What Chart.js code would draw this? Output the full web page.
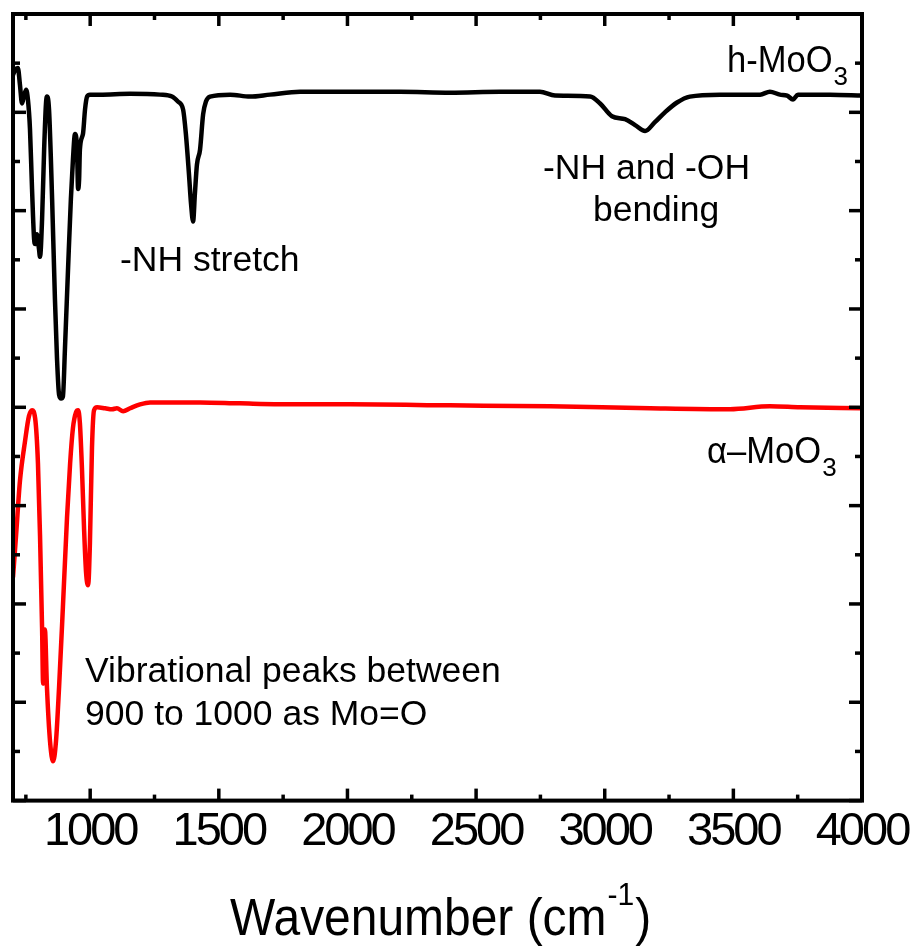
<!DOCTYPE html>
<html><head><meta charset="utf-8">
<script src="https://cdn.jsdelivr.net/npm/chart.js@4.4.1/dist/chart.umd.min.js"></script>
<style>html,body{margin:0;padding:0;background:#fff;overflow:hidden}#wrap{position:relative;width:918px;height:947px}</style>
</head><body><div id="wrap"><canvas id="c" width="918" height="947"></canvas></div>
<script>
// ---- data ----
const seriesNames = ['h-MoO3', 'α–MoO3'];
const hWave = [700,708,719,727,735,743,751,758,766,774,782,786,793,801,805,813,821,828,832,840,852,863,871,879,887,894,902,914,925,933,941,949,953,957,960,972,980,988,999,1038,1155,1271,1318,1341,1361,1372,1384,1392,1400,1407,1415,1427,1439,1450,1466,1544,1621,1699,1816,2010,2204,2399,2593,2748,2807,2943,2982,3028,3079,3118,3157,3195,3234,3281,3331,3448,3604,3642,3681,3709,3732,3751,3876,4000];
const hAbs  = [7.38,7.43,7.45,7.28,7.09,7.17,7.23,7.13,6.83,6.22,5.71,5.66,5.76,5.61,5.53,5.91,6.62,7.08,7.16,7.03,6.12,5.10,4.50,4.13,4.09,4.11,4.60,5.41,6.12,6.52,6.78,6.62,6.22,6.32,6.62,6.78,7.03,7.16,7.18,7.18,7.19,7.18,7.16,7.11,7.03,6.78,6.37,6.07,5.89,6.17,6.47,6.62,6.98,7.11,7.16,7.18,7.16,7.18,7.21,7.21,7.21,7.20,7.21,7.21,7.17,7.16,7.09,6.96,6.93,6.87,6.81,6.90,7.00,7.10,7.16,7.18,7.18,7.21,7.18,7.17,7.13,7.18,7.18,7.17];
const aWave = [700,712,727,747,762,774,786,797,805,813,817,824,832,844,856,867,879,894,910,922,933,945,953,960,968,976,984,992,999,1007,1015,1027,1058,1085,1104,1128,1155,1194,1233,1427,1582,1816,2010,2399,2787,3176,3487,3642,3759,4000];
const aAbs  = [2.27,2.70,3.25,3.66,3.91,3.97,3.89,3.43,2.70,1.76,1.19,1.74,1.15,0.60,0.40,0.60,1.15,1.97,2.88,3.43,3.79,3.95,3.97,3.84,3.38,2.78,2.32,2.19,2.62,3.59,3.97,4.00,3.99,3.98,3.99,3.96,3.99,4.03,4.05,4.05,4.04,4.03,4.03,4.02,4.01,3.99,3.98,4.01,4.00,3.99];
const xTickValues = [1000,1500,2000,2500,3000,3500,4000];
const xTickLabels = ['1000','1500','2000','2500','3000','3500','4000'];
const xMinorValues = [750,1250,1750,2250,2750,3250,3750];
const yTickValues = [0,1,2,3,4,5,6,7,8];
const yMinorValues = [0.5,1.5,2.5,3.5,4.5,5.5,6.5,7.5];
const annoTexts = ['-NH stretch','-NH and -OH','bending','Vibrational peaks between','900 to 1000 as Mo=O'];
const annoAnchors = [[1116,5.387],[2760,6.319],[2954,5.894],[980,1.205],[980,0.770]]; // wavenumber, value of text baseline start
const axisTitle = ['Wavenumber (cm','-1',')'];

// ---- drawing ----
const FONT = '"Liberation Sans", Arial, sans-serif';
function txt(ctx, s, x, y, size, sx) {
  ctx.save();
  ctx.font = size + 'px ' + FONT;
  ctx.textBaseline = 'alphabetic'; ctx.textAlign = 'left'; ctx.fillStyle = '#000';
  ctx.translate(x, y); ctx.scale(sx || 1, 1); ctx.fillText(s, 0, 0);
  const w = ctx.measureText(s).width * (sx || 1);
  ctx.restore();
  return w;
}
const framePlugin = {
  id: 'frame',
  beforeDraw(chart) { chart.ctx.letterSpacing = '-3px'; },
  beforeDatasetsDraw(chart) { chart.ctx.letterSpacing = '0px'; },
  afterDraw(chart) {
    const {ctx, chartArea: a, scales: {x, y}} = chart;
    ctx.save();
    ctx.letterSpacing = '0px';
    ctx.strokeStyle = '#000';
    ctx.lineWidth = 4;
    ctx.strokeRect(a.left, a.top, a.right - a.left, a.bottom - a.top);
    ctx.lineWidth = 3.5;
    const tick = (x1, y1, x2, y2) => { ctx.beginPath(); ctx.moveTo(x1, y1); ctx.lineTo(x2, y2); ctx.stroke(); };
    xTickValues.forEach(v => { const p = x.getPixelForValue(v); tick(p, a.bottom, p, a.bottom - 12); tick(p, a.top, p, a.top + 12); });
    xMinorValues.forEach(v => { const p = x.getPixelForValue(v); tick(p, a.bottom, p, a.bottom - 6); tick(p, a.top, p, a.top + 6); });
    yTickValues.forEach(v => { const p = y.getPixelForValue(v); tick(a.left, p, a.left + 13, p); tick(a.right, p, a.right - 13, p); });
    yMinorValues.forEach(v => { const p = y.getPixelForValue(v); tick(a.left, p, a.left + 7, p); tick(a.right, p, a.right - 7, p); });
    // annotations
    annoTexts.forEach((t, i) => txt(ctx, t, x.getPixelForValue(annoAnchors[i][0]), y.getPixelForValue(annoAnchors[i][1]), 35.5));
    // series labels with subscript
    let px = x.getPixelForValue(3475), py = y.getPixelForValue(7.413);
    let w = txt(ctx, 'h-MoO', px, py, 36, 0.96);
    txt(ctx, '3', px + w + 1, py + 13, 26);
    px = x.getPixelForValue(3398); py = y.getPixelForValue(3.433);
    w = txt(ctx, 'α–MoO', px, py, 36, 0.96);
    txt(ctx, '3', px + w + 1, py + 13, 26);
    // axis title with superscript
    let tx = 230, ty = 935;
    w = txt(ctx, axisTitle[0], tx, ty, 51, 0.94); tx += w + 1;
    w = txt(ctx, axisTitle[1], tx, ty - 30, 32, 0.94); tx += w + 1;
    txt(ctx, axisTitle[2], tx, ty, 51, 0.94);
    ctx.restore();
  }
};
new Chart(document.getElementById('c').getContext('2d'), {
  type: 'line',
  data: {
    datasets: [
      {label: seriesNames[0], data: hWave.map((v, i) => ({x: v, y: hAbs[i]})), borderColor: '#000000', borderWidth: 4.5, pointRadius: 0, fill: false, cubicInterpolationMode: 'monotone'},
      {label: seriesNames[1], data: aWave.map((v, i) => ({x: v, y: aAbs[i]})), borderColor: '#ff0000', borderWidth: 4.5, pointRadius: 0, fill: false, cubicInterpolationMode: 'monotone'}
    ]
  },
  options: {
    responsive: false, animation: false, devicePixelRatio: 1,
    layout: {padding: {left: 13, top: 14, right: 56, bottom: 84}},
    plugins: {legend: {display: false}, tooltip: {enabled: false}},
    scales: {
      x: {
        type: 'linear', min: 700, max: 4000,
        border: {display: false}, grid: {display: false, drawTicks: false},
        afterBuildTicks: s => { s.ticks = xMinorValues.concat(xTickValues).sort((p, q) => p - q).map(v => ({value: v})); },
        ticks: {autoSkip: false, maxRotation: 0, padding: 3, color: '#000', font: {family: FONT, size: 47},
          callback: v => { const k = xTickValues.indexOf(v); return k >= 0 ? xTickLabels[k] : ''; }}
      },
      y: {min: 0, max: 8, display: false}
    }
  },
  plugins: [framePlugin]
});
</script></body></html>
